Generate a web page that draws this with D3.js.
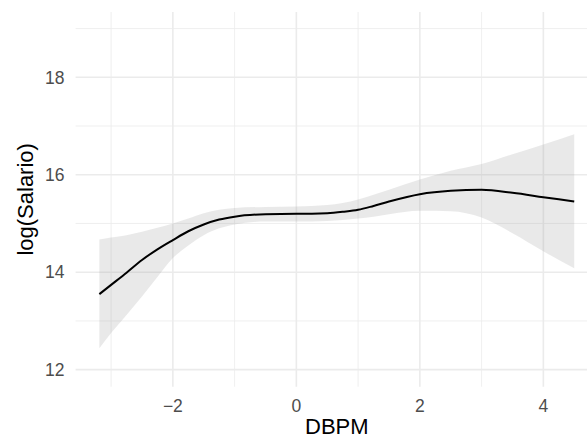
<!DOCTYPE html>
<html>
<head>
<meta charset="utf-8">
<script src="https://cdn.jsdelivr.net/npm/d3@7"></script>
<style>
  body { margin: 0; background: #fff; }
  text { font-family: "Liberation Sans", Arial, sans-serif; }
</style>
</head>
<body>
<script>
const width = 587;
const height = 439;

// smooth fit of log(Salario) against DBPM, with its confidence band
const dbpm = [-3.19, -3, -2.75, -2.5, -2.25, -2, -1.75, -1.5, -1.25, -1, -0.5, 0, 0.25, 0.5, 0.75, 1, 1.25, 1.5, 2, 2.5, 3, 3.5, 4, 4.5];
const fit = [13.55, 13.74, 13.99, 14.25, 14.47, 14.66, 14.84, 14.98, 15.08, 15.14, 15.19, 15.20, 15.20, 15.21, 15.24, 15.28, 15.36, 15.45, 15.60, 15.67, 15.69, 15.63, 15.54, 15.45];
const upper = [14.67, 14.71, 14.76, 14.83, 14.91, 15.00, 15.10, 15.21, 15.28, 15.32, 15.34, 15.35, 15.36, 15.38, 15.42, 15.49, 15.59, 15.69, 15.90, 16.08, 16.22, 16.42, 16.62, 16.83];
const lower = [12.44, 12.75, 13.12, 13.50, 13.90, 14.29, 14.55, 14.76, 14.90, 14.98, 15.04, 15.04, 15.04, 15.05, 15.07, 15.10, 15.14, 15.19, 15.26, 15.25, 15.12, 14.80, 14.43, 14.08];

const xTicks = [-2, 0, 2, 4];
const xMinor = [-3, -1, 1, 3];
const yTicks = [12, 14, 16, 18];
const yMinor = [13, 15, 17, 19];

const data = dbpm.map((d, i) => ({ x: d, y: fit[i], lo: lower[i], hi: upper[i] }));

const panel = { left: 75.6, right: 598, top: 12, bottom: 386.7 };

const x = d3.scaleLinear().domain([-3.575, 4.885]).range([panel.left, panel.right]);
const y = d3.scaleLinear().domain([11.65, 19.34]).range([panel.bottom, panel.top]);

const svg = d3.select('body').append('svg').attr('width', width).attr('height', height);

const grid = svg.append('g');

// minor grid
grid.selectAll('.xminor').data(xMinor).enter().append('line')
    .attr('x1', d => x(d)).attr('x2', d => x(d))
    .attr('y1', panel.top).attr('y2', panel.bottom)
    .attr('stroke', '#ebebeb').attr('stroke-width', 0.8);
grid.selectAll('.yminor').data(yMinor).enter().append('line')
    .attr('x1', panel.left).attr('x2', panel.right)
    .attr('y1', d => y(d)).attr('y2', d => y(d))
    .attr('stroke', '#ebebeb').attr('stroke-width', 0.8);

// major grid
grid.selectAll('.xmajor').data(xTicks).enter().append('line')
    .attr('x1', d => x(d)).attr('x2', d => x(d))
    .attr('y1', panel.top).attr('y2', panel.bottom)
    .attr('stroke', '#ebebeb').attr('stroke-width', 1.6);
grid.selectAll('.ymajor').data(yTicks).enter().append('line')
    .attr('x1', panel.left).attr('x2', panel.right)
    .attr('y1', d => y(d)).attr('y2', d => y(d))
    .attr('stroke', '#ebebeb').attr('stroke-width', 1.6);

// confidence band
const area = d3.area()
    .x(d => x(d.x))
    .y0(d => y(d.lo))
    .y1(d => y(d.hi))
    .curve(d3.curveMonotoneX);

svg.append('path')
    .datum(data)
    .attr('d', area)
    .attr('fill', '#999999')
    .attr('fill-opacity', 0.22);

// fitted line
const line = d3.line()
    .x(d => x(d.x))
    .y(d => y(d.y))
    .curve(d3.curveMonotoneX);

svg.append('path')
    .datum(data)
    .attr('d', line)
    .attr('fill', 'none')
    .attr('stroke', '#000')
    .attr('stroke-width', 2);

// tick labels
svg.selectAll('.xlab').data(xTicks).enter().append('text')
    .attr('x', d => x(d))
    .attr('y', 412)
    .attr('text-anchor', 'middle')
    .attr('font-size', 17.5)
    .attr('fill', '#4d4d4d')
    .text(d => String(d).replace('-', '\u2212'));

svg.selectAll('.ylab').data(yTicks).enter().append('text')
    .attr('x', 64.5)
    .attr('y', d => y(d))
    .attr('dy', '0.36em')
    .attr('text-anchor', 'end')
    .attr('font-size', 17.5)
    .attr('fill', '#4d4d4d')
    .text(d => d);

// axis titles
svg.append('text')
    .attr('x', (panel.left + panel.right) / 2)
    .attr('y', 434)
    .attr('text-anchor', 'middle')
    .attr('font-size', 22)
    .attr('fill', '#000')
    .text('DBPM');

svg.append('text')
    .attr('transform', `translate(33,${(panel.top + panel.bottom) / 2}) rotate(-90)`)
    .attr('text-anchor', 'middle')
    .attr('font-size', 22)
    .attr('fill', '#000')
    .text('log(Salario)');
</script>
</body>
</html>
